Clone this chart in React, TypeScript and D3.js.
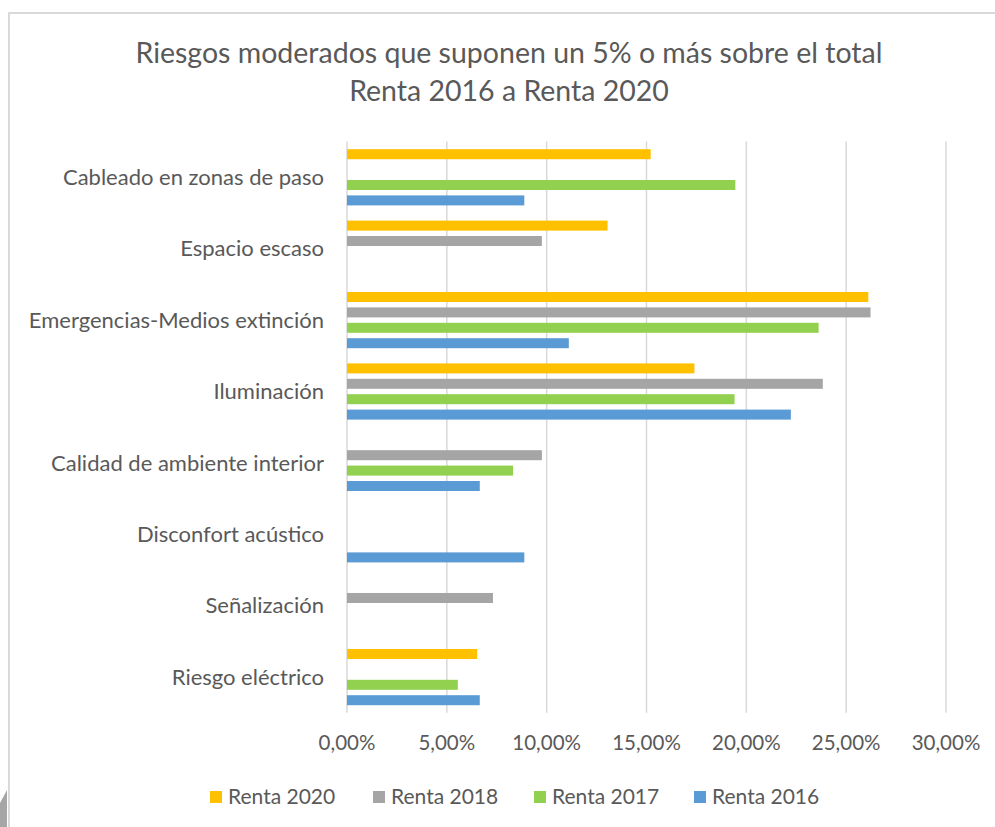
import React from "react";
import * as d3 from "d3";

const categories = [
  "Cableado en zonas de paso",
  "Espacio escaso",
  "Emergencias-Medios extinción",
  "Iluminación",
  "Calidad de ambiente interior",
  "Disconfort acústico",
  "Señalización",
  "Riesgo eléctrico",
];

const seriesNames = ["Renta 2020", "Renta 2018", "Renta 2017", "Renta 2016"];
const seriesColors = ["#FFC000", "#A5A5A5", "#92D050", "#5B9BD5"];

const renta2020 = [15.21, 13.05, 26.11, 17.4, null, null, null, 6.52];
const renta2018 = [null, 9.76, 26.22, 23.83, 9.76, null, 7.31, null];
const renta2017 = [19.45, null, 23.62, 19.41, 8.32, null, null, 5.55];
const renta2016 = [8.88, null, 11.11, 22.23, 6.65, 8.88, null, 6.65];

const seriesValues = [renta2020, renta2018, renta2017, renta2016];
const xTicks = [0, 5, 10, 15, 20, 25, 30];

const titleLines = [
  "Riesgos moderados que suponen un 5% o más sobre el total",
  "Renta 2016 a Renta 2020",
];

const FONT = "Lato, 'Open Sans', sans-serif";
const TEXT = "#595959";

export default function App() {
  const W = 995;
  const H = 827;
  const x0 = 347;
  const x1 = 946;
  const yTop = 141.6;
  const yBot = 712.8;

  const x = d3.scaleLinear().domain([0, 30]).range([x0, x1]);
  const y = d3.scaleBand<string>().domain(categories).range([yTop, yBot]).padding(0);
  const band = y.bandwidth();
  const inner = d3
    .scaleBand<string>()
    .domain(seriesNames)
    .range([0, band])
    .paddingInner(0.35)
    .paddingOuter(0.493);

  const fmt = (v: number) => v.toFixed(2).replace(".", ",") + "%";

  const legendX = [210, 373, 534, 694];

  return (
    <svg
      width={W}
      height={H}
      style={{ position: "absolute", left: 0, top: 0, background: "#fff" }}
      fontFamily={FONT}
    >
      <rect x={0} y={0} width={W} height={H} fill="#fff" />
      {/* chart border */}
      <path d={`M9,${H} L9,13 L${W},13`} fill="none" stroke="#D9D9D9" strokeWidth={2} />
      <polygon points={`7,790 0,803 0,${H} 7,${H}`} fill="#A6A6A6" />

      {/* title */}
      {titleLines.map((t, i) => (
        <text
          key={i}
          x={509}
          y={63 + i * 38}
          textAnchor="middle"
          fontSize={28.5}
          fill={TEXT}
        >
          {t}
        </text>
      ))}

      {/* gridlines */}
      {xTicks.map((t) => (
        <line
          key={t}
          x1={x(t)}
          x2={x(t)}
          y1={yTop}
          y2={yBot}
          stroke="#D9D9D9"
          strokeWidth={1.5}
        />
      ))}

      {/* bars */}
      {seriesValues.map((vals, si) =>
        vals.map((v, ci) =>
          v == null ? null : (
            <rect
              key={`${si}-${ci}`}
              x={x(0)}
              y={(y(categories[ci]) as number) + (inner(seriesNames[si]) as number)}
              width={x(v) - x(0)}
              height={inner.bandwidth()}
              fill={seriesColors[si]}
            />
          )
        )
      )}

      {/* category labels */}
      {categories.map((c) => (
        <text
          key={c}
          x={324}
          y={(y(c) as number) + band / 2}
          dy="0.35em"
          textAnchor="end"
          fontSize={22}
          fill={TEXT}
        >
          {c}
        </text>
      ))}

      {/* x tick labels */}
      {xTicks.map((t) => (
        <text
          key={t}
          x={x(t)}
          y={743}
          dy="0.35em"
          textAnchor="middle"
          fontSize={20.5}
          fill={TEXT}
        >
          {fmt(t)}
        </text>
      ))}

      {/* legend */}
      {seriesNames.map((s, i) => (
        <g key={s} transform={`translate(${legendX[i]},797)`}>
          <rect x={0} y={-6} width={12} height={12} fill={seriesColors[i]} />
          <text x={18} y={0} dy="0.35em" fontSize={21} fill={TEXT}>
            {s}
          </text>
        </g>
      ))}
    </svg>
  );
}
